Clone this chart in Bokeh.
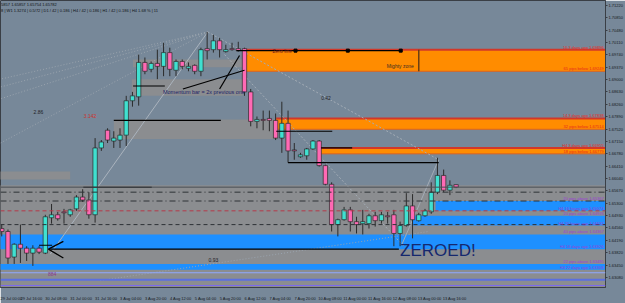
from bokeh.plotting import figure
from bokeh.models import (Range1d, FixedTicker, PrintfTickFormatter, CustomJSTickFormatter,
                          Label, Span, ColumnDataSource)
from bokeh.embed import file_html
from bokeh.resources import INLINE

# ---------------- data ----------------
bar_index = list(range(1, 75))
open_ = [1.64543, 1.64455, 1.63690, 1.64073, 1.63955, 1.63808, 1.63955, 1.63808, 1.64867, 1.64955,
         1.65043, 1.64955, 1.65132, 1.65485, 1.65396, 1.64955, 1.66955, 1.67485, 1.67161, 1.67191,
         1.67338, 1.68367, 1.68485, 1.69514, 1.69308, 1.69485, 1.69396, 1.69808, 1.69279, 1.69544,
         1.69338, 1.69426, 1.69249, 1.69926, 1.69896, 1.70161, 1.69838, 1.69926, 1.69926, 1.69926,
         1.68632, 1.67749, 1.67808, 1.67838, 1.67779, 1.67249, 1.67691, 1.66896, 1.66691, 1.66720,
         1.66926, 1.67161, 1.66426, 1.65867, 1.64661, 1.64808, 1.65102, 1.64749, 1.64690, 1.64690,
         1.64926, 1.64779, 1.64926, 1.64955, 1.64396, 1.64632, 1.65220, 1.64779, 1.64926, 1.65043,
         1.65632, 1.66132, 1.65691, 1.65857]
high = [1.64661, 1.64514, 1.64102, 1.64661, 1.64014, 1.64043, 1.64014, 1.64955, 1.65279, 1.65043,
        1.65132, 1.65132, 1.65543, 1.65720, 1.65632, 1.67249, 1.67191, 1.67543, 1.67455, 1.67543,
        1.68514, 1.68632, 1.69749, 1.69661, 1.69544, 1.69896, 1.70102, 1.69955, 1.69602, 1.69602,
        1.69514, 1.69455, 1.69955, 1.70426, 1.70338, 1.70249, 1.70043, 1.70102, 1.70132, 1.69955,
        1.68720, 1.67896, 1.68073, 1.68073, 1.67985, 1.68338, 1.68073, 1.67102, 1.66808, 1.66955,
        1.67191, 1.67191, 1.66455, 1.65926, 1.64838, 1.65191, 1.65191, 1.64896, 1.65102, 1.64985,
        1.65043, 1.65043, 1.65043, 1.65102, 1.64749, 1.65602, 1.65573, 1.65014, 1.65132, 1.65926,
        1.66661, 1.66308, 1.65985, 1.65857]
low = [1.64308, 1.63485, 1.63485, 1.63514, 1.63573, 1.63426, 1.63779, 1.63779, 1.64690, 1.64779,
       1.64690, 1.64896, 1.65073, 1.65338, 1.64838, 1.64720, 1.66867, 1.67102, 1.66955, 1.66955,
       1.67014, 1.68190, 1.68220, 1.69161, 1.69220, 1.69014, 1.69102, 1.69102, 1.69102, 1.69308,
       1.69249, 1.69161, 1.69102, 1.69602, 1.69808, 1.69661, 1.69808, 1.69867, 1.69838, 1.68514,
       1.67602, 1.67543, 1.67485, 1.67455, 1.67191, 1.66808, 1.66514, 1.66602, 1.66661, 1.66602,
       1.66896, 1.66397, 1.65838, 1.64455, 1.64308, 1.64779, 1.64455, 1.64396, 1.64367, 1.64543,
       1.64602, 1.64690, 1.64690, 1.64014, 1.64014, 1.64602, 1.64249, 1.64749, 1.64896, 1.64985,
       1.65573, 1.65632, 1.65543, 1.65754]
close = [1.64455, 1.63661, 1.64073, 1.63955, 1.63808, 1.63955, 1.63838, 1.64896, 1.64955, 1.64838,
         1.65014, 1.65102, 1.65485, 1.65396, 1.64955, 1.66955, 1.67132, 1.67191, 1.67249, 1.67338,
         1.68367, 1.68514, 1.69514, 1.69249, 1.69485, 1.69396, 1.69808, 1.69308, 1.69544, 1.69396,
         1.69396, 1.69249, 1.69896, 1.69867, 1.70161, 1.69896, 1.69896, 1.69896, 1.69867, 1.68632,
         1.67749, 1.67808, 1.67779, 1.67779, 1.67249, 1.67691, 1.66867, 1.66867, 1.66749, 1.66926,
         1.67161, 1.66426, 1.65867, 1.64661, 1.64808, 1.65102, 1.64749, 1.64661, 1.64749, 1.64926,
         1.64779, 1.64955, 1.64896, 1.64396, 1.64632, 1.65220, 1.64808, 1.64955, 1.65073, 1.65632,
         1.66132, 1.65691, 1.65838, 1.65782]

time_label_bars = [0, 4, 8, 12, 16, 20, 24, 28, 32, 36, 40, 44, 48, 52, 56, 60, 64, 68, 72]
time_labels = ["29 Jul 00:00", "29 Jul 16:00", "30 Jul 08:00", "31 Jul 00:00", "31 Jul 16:00",
               "3 Aug 04:00", "3 Aug 20:00", "4 Aug 12:00", "5 Aug 04:00", "5 Aug 20:00",
               "6 Aug 12:00", "7 Aug 04:00", "7 Aug 20:00", "10 Aug 08:00", "11 Aug 00:00",
               "11 Aug 16:00", "12 Aug 08:00", "13 Aug 00:00", "13 Aug 16:00"]
price_ticks = [1.71220, 1.70850, 1.70480, 1.70110, 1.69740, 1.69370, 1.69000, 1.68630, 1.68260,
               1.67890, 1.67520, 1.67150, 1.66780, 1.66410, 1.66040, 1.65670, 1.65300, 1.64930,
               1.64560, 1.64190, 1.63820, 1.63450, 1.63080]
current_price = 1.65782

# zones: start bar, end bar, top price, bottom price
orange_start = [40.0, 45.1, 52.3]
orange_top = [1.69896, 1.67838, 1.66955]
orange_bottom = [1.69249, 1.67514, 1.66779]
orange_labels_top = ["10.3 days ago 1.69896", "14.3 days ago 1.67838", "H4 3 days ago 1.66955"]
orange_labels_bottom = ["65 pips below 1.69249", "32 pips below 1.67514", "18 pips below 1.66779"]

blue_start = [-5.0, -5.0, 70.7, 66.9]
blue_top = [1.64367, 1.63485, 1.65367, 1.64926]
blue_bottom = [1.63926, 1.63308, 1.65073, 1.64632]
blue_labels_top = ["40 pips above 1.64367", "22 pips above 1.63485", "20 pips above 1.65367", "20 pips above 1.64926"]
blue_labels_bottom = ["H4 18 days ago 1.63926", "H4 22 days ago 1.63308", "H4 16 hours ago 1.65073", "H4 20 hours ago 1.64632"]

gray_start = [22.1, 21.9, 19.0, -5.0, -5.0]
gray_end = [39.7, 39.7, 45.3, 12.0, 200.0]
gray_top = [1.69602, 1.69014, 1.67808, 1.66249, 1.65838]
gray_bottom = [1.69367, 1.68514, 1.67220, 1.66014, 1.60000]

# drawn horizontal black lines: start bar, end bar, price
hline_x0 = [19.0, 22.1, 38.7, 45.1, 52.3, 47.0, 14.1, 8.8, 7.0]
hline_x1 = [36.2, 27.2, 65.1, 54.1, 57.3, 71.2, 25.1, 64.8, 9.1]
hline_y = [1.67779, 1.68808, 1.69867, 1.67455, 1.66955, 1.66514, 1.65779, 1.63926, 1.64043]

X0 = 0.8
X1 = 98.0
Y0 = 1.62779
Y1 = 1.71367
FONT = "Liberation Sans"

p = figure(width=625, height=303, output_backend="svg", toolbar_location=None, title=None,
           x_range=Range1d(X0, X1), y_range=Range1d(Y0, Y1), y_axis_location="right",
           min_border_left=0, min_border_top=0, min_border_right=16, min_border_bottom=11,
           background_fill_color="#778899", border_fill_color="#778899",
           outline_line_color="#3a3f46", outline_line_width=1)
p.grid.visible = False

# axes
p.yaxis.ticker = FixedTicker(ticks=price_ticks)
p.yaxis.formatter = PrintfTickFormatter(format="%.5f")
p.yaxis.major_label_text_font = FONT
p.yaxis.major_label_text_font_size = "4px"
p.yaxis.major_label_text_color = "#15181c"
p.yaxis.major_tick_out = 2
p.yaxis.major_tick_in = 0
p.yaxis.minor_tick_out = 0
p.yaxis.minor_tick_in = 0
p.yaxis.major_label_standoff = 1
p.yaxis.axis_line_color = "#3a3f46"
p.yaxis.major_tick_line_color = "#3a3f46"

LABEL_SHIFT = 1.75
p.xaxis.ticker = FixedTicker(ticks=[b + LABEL_SHIFT for b in time_label_bars])
p.xaxis.formatter = CustomJSTickFormatter(
    args=dict(labels=time_labels, shift=LABEL_SHIFT),
    code="const i = Math.round((tick - shift) / 4); return (i >= 0 && i < labels.length) ? labels[i] : '';")
p.xaxis.major_label_text_font = FONT
p.xaxis.major_label_text_font_size = "4px"
p.xaxis.major_label_text_color = "#15181c"
p.xaxis.major_tick_line_color = None
p.xaxis.minor_tick_line_color = None
p.xaxis.axis_line_color = "#3a3f46"
p.xaxis.major_label_standoff = 2

# gray zones
p.quad(left=gray_start, right=gray_end, top=gray_top, bottom=gray_bottom,
       fill_color="#8e8e8e", fill_alpha=0.85, line_color=None)
# blue zones
p.quad(left=blue_start, right=[200] * len(blue_start), top=blue_top, bottom=blue_bottom,
       fill_color="#1e90ff", line_color=None)
# orange zones
p.quad(left=orange_start, right=[200] * len(orange_start), top=orange_top, bottom=orange_bottom,
       fill_color="#ff8c00", line_color=None)
p.segment(x0=orange_start, x1=[200] * 3, y0=orange_top, y1=orange_top, line_color="#d2382a", line_width=2)
p.segment(x0=orange_start, x1=[200] * 3, y0=orange_bottom, y1=orange_bottom, line_color="#e0641a", line_width=1)

# thin blue lines at bottom
for yv, col, w in [(1.63220, "#8fa8ff", 1), (1.63014, "#5a6fe0", 2), (1.62838, "#7b68ee", 1)]:
    p.add_layout(Span(location=yv, dimension="width", line_color=col, line_width=w))

# horizontal dashed lines
p.add_layout(Span(location=current_price, dimension="width", line_color="#4a4f55", line_width=1))
p.add_layout(Span(location=1.65632, dimension="width", line_color="#2e3236", line_width=1, line_dash="6 3 1 3"))
p.add_layout(Span(location=1.65367, dimension="width", line_color="#2e3236", line_width=1, line_dash="6 3 1 3"))
p.add_layout(Span(location=1.65073, dimension="width", line_color="#b53a4a", line_width=1, line_dash="4 3"))
p.add_layout(Span(location=1.64661, dimension="width", line_color="#2e3236", line_width=1, line_dash="4 3"))

# diagonal drawing lines
p.segment(x0=[8.8], y0=[1.63779], x1=[34.1], y1=[1.70426], line_color="#aab3bd", line_width=1)
p.segment(x0=[34.1, 36.8], y0=[1.70426, 1.69749], x1=[71.2, 65.6], y1=[1.66602, 1.64014],
          line_color="#a3acb6", line_width=1, line_dash="2 2")
p.segment(x0=[65.3], y0=[1.64073], x1=[71.2], y1=[1.66602], line_color="#a3acb6", line_width=1)
p.segment(x0=[34.1] * 4, y0=[1.70426] * 4, x1=[0.8] * 4, y1=[1.69014, 1.68779, 1.68426, 1.67102],
          line_color="#9aa4ae", line_width=1, line_dash="1 2")
p.segment(x0=[16.8], y0=[1.62985], x1=[69.6], y1=[1.64455], line_color="#9aa4ae", line_width=1, line_dash="1 2")

# candles
bull = [c >= o for o, c in zip(open_, close)]
src = ColumnDataSource(dict(
    x=bar_index, h=high, l=low,
    top=[max(o, c) for o, c in zip(open_, close)],
    bottom=[min(o, c) for o, c in zip(open_, close)],
    color=["#40e0d0" if b else "#ff69b4" for b in bull]))
p.segment(x0="x", y0="h", x1="x", y1="l", source=src, line_color="#2b2b2b", line_width=1)
p.vbar(x="x", width=0.7, top="top", bottom="bottom", source=src,
       fill_color="color", line_color="#2b2b2b", line_width=0.7)

# black drawn lines
p.segment(x0=hline_x0, x1=hline_x1, y0=hline_y, y1=hline_y, line_color="#000000", line_width=1.2)
p.scatter(x=[48.2, 56.6, 65.1], y=[1.69867] * 3, marker="square", size=3, color="#000000")
p.segment(x0=[68.0], x1=[68.0], y0=[1.69896], y1=[1.69249], line_color="#6b3f14", line_width=1.5)
p.segment(x0=[30.1, 36.0], y0=[1.68720, 1.68720], x1=[40.0, 39.2], y1=[1.69279, 1.69720],
          line_color="#000000", line_width=1.2)
p.line(x=[10.9, 8.5, 10.9], y=[1.64161, 1.63926, 1.63661], line_color="#000000", line_width=1.3)

# texts
def lab(x, y, t, size, color, align="left", base="middle", **kw):
    p.add_layout(Label(x=x, y=y, text=t, text_font=FONT, text_font_size=size, text_color=color,
                       text_align=align, text_baseline=base, **kw))

lab(65.0, 1.63897, "ZEROED!", "17px", "#16286e")
lab(26.9, 1.68632, "Momentum bar = 2x previous one", "5.5px", "#1d2266")
lab(44.5, 1.69867, "Zero line", "5px", "#7a1a1a", background_fill_color="#ff8c00", background_fill_alpha=0.0)
lab(67.2, 1.69396, "Mighty zone", "5px", "#3b2d24", align="right")
lab(6.9, 1.68043, "2.86", "5px", "#1f2226", align="center")
lab(15.2, 1.67896, "3.142", "5px", "#d0302c", align="center")
lab(53.1, 1.68455, "0.42", "5px", "#1f2226", align="center")
lab(35.0, 1.63602, "0.93", "5px", "#1f2226", align="center")
lab(9.1, 1.63191, "884", "5px", "#8b3a8b", align="center")
lab(X0 + 0.1, 1.71249, "5857 1.65857 1.65754 1.65782", "4px", "#101214")
lab(X0 + 0.1, 1.71073, "8 | W1 1.3274 | 0.5/72 | D1 / 42 | 0.186 | H4 / 42 | 0.186 | H1 / 42 | 0.186 | H4 1.68 % | 11",
    "4px", "#101214")

for t, y in zip(orange_labels_top, orange_top):
    lab(X1 - 0.3, y, t, "4px", "#e8281e", align="right", base="bottom")
for t, y in zip(orange_labels_bottom, orange_bottom):
    lab(X1 - 0.3, y, t, "4px", "#e8281e", align="right", base="bottom")
for t, y in zip(blue_labels_top, blue_top):
    lab(X1 - 0.3, y, t, "4px", "#9b3fd6", align="right", base="bottom")
for t, y in zip(blue_labels_bottom, blue_bottom):
    lab(X1 - 0.3, y, t, "4px", "#9b3fd6", align="right", base="bottom")

lab(X1 + 0.35, current_price, "%.5f" % current_price, "4px", "#000000",
    background_fill_color="#ffffff")

open("out.html", "w").write(file_html(p, INLINE))
